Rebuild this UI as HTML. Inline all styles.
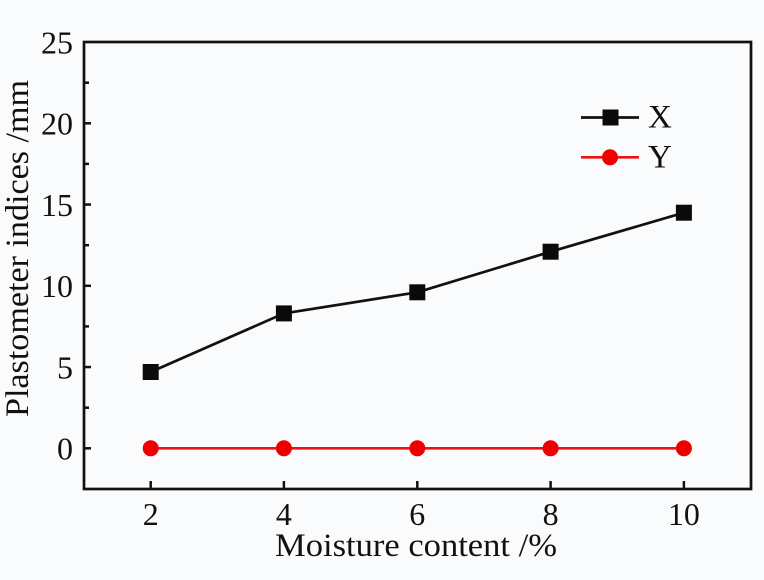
<!DOCTYPE html>
<html>
<head>
<meta charset="utf-8">
<style>
  html,body{margin:0;padding:0;background:#fafbfc;}
  svg{display:block;}
  text{font-family:"Liberation Serif","Times New Roman",serif;fill:#111;}
</style>
</head>
<body>
<svg width="764" height="580" viewBox="0 0 764 580" xmlns="http://www.w3.org/2000/svg">
  <rect x="0" y="0" width="764" height="580" fill="#fafbfc"/>
  <!-- frame -->
  <rect x="84" y="42" width="667" height="447" fill="none" stroke="#111" stroke-width="2.7"/>
  <g stroke="#111" stroke-width="2.5">
    <line x1="84" y1="448.3" x2="91" y2="448.3"/>
    <line x1="84" y1="367.05" x2="91" y2="367.05"/>
    <line x1="84" y1="285.8" x2="91" y2="285.8"/>
    <line x1="84" y1="204.55" x2="91" y2="204.55"/>
    <line x1="84" y1="123.3" x2="91" y2="123.3"/>
    <line x1="84" y1="407.7" x2="89" y2="407.7"/>
    <line x1="84" y1="326.4" x2="89" y2="326.4"/>
    <line x1="84" y1="245.2" x2="89" y2="245.2"/>
    <line x1="84" y1="163.9" x2="89" y2="163.9"/>
    <line x1="84" y1="82.7" x2="89" y2="82.7"/>
    <line x1="150.7" y1="489" x2="150.7" y2="481"/>
    <line x1="283.9" y1="489" x2="283.9" y2="481"/>
    <line x1="417.3" y1="489" x2="417.3" y2="481"/>
    <line x1="550.6" y1="489" x2="550.6" y2="481"/>
    <line x1="683.9" y1="489" x2="683.9" y2="481"/>
  </g>
  <g font-size="32" text-anchor="end">
    <text x="73" y="459.5">0</text>
    <text x="73" y="378.3">5</text>
    <text x="73" y="297">10</text>
    <text x="73" y="215.8">15</text>
    <text x="73" y="134.5">20</text>
    <text x="73" y="53.3">25</text>
  </g>
  <g font-size="32" text-anchor="middle">
    <text x="150.7" y="525">2</text>
    <text x="283.9" y="525">4</text>
    <text x="417.3" y="525">6</text>
    <text x="550.6" y="525">8</text>
    <text x="683.9" y="525">10</text>
  </g>
  <text x="275" y="556" font-size="33" textLength="282" lengthAdjust="spacingAndGlyphs">Moisture content /%</text>
  <text transform="translate(28,417) rotate(-90)" x="0" y="0" font-size="33" textLength="337" lengthAdjust="spacingAndGlyphs">Plastometer indices /mm</text>

  <polyline points="150.7,448.3 283.9,448.3 417.3,448.3 550.6,448.3 683.9,448.3" fill="none" stroke="#ee1111" stroke-width="2.6"/>
  <g fill="#ee0000">
    <circle cx="150.7" cy="448.3" r="8"/>
    <circle cx="283.9" cy="448.3" r="8"/>
    <circle cx="417.3" cy="448.3" r="8"/>
    <circle cx="550.6" cy="448.3" r="8"/>
    <circle cx="683.9" cy="448.3" r="8"/>
  </g>

  <polyline points="150.7,372 283.9,313.4 417.3,292.3 550.6,251.7 683.9,212.7" fill="none" stroke="#111" stroke-width="2.7"/>
  <g fill="#0a0a0a">
    <rect x="142.7" y="364" width="16" height="16"/>
    <rect x="275.9" y="305.4" width="16" height="16"/>
    <rect x="409.3" y="284.3" width="16" height="16"/>
    <rect x="542.6" y="243.7" width="16" height="16"/>
    <rect x="675.9" y="204.7" width="16" height="16"/>
  </g>

  <line x1="581" y1="117.5" x2="639" y2="117.5" stroke="#111" stroke-width="2.7"/>
  <rect x="602.5" y="109.5" width="16" height="16" fill="#0a0a0a"/>
  <text x="648" y="127.5" font-size="33">X</text>
  <line x1="581" y1="157.3" x2="639" y2="157.3" stroke="#ee1111" stroke-width="2.6"/>
  <circle cx="610" cy="157.3" r="8" fill="#ee0000"/>
  <text x="648" y="167.5" font-size="33">Y</text>
</svg>
</body>
</html>
